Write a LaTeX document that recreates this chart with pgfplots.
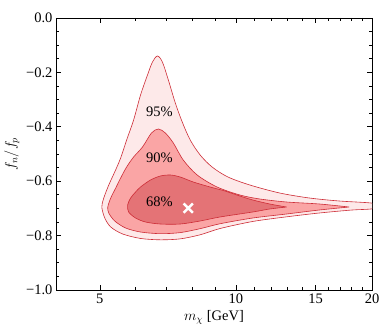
\documentclass[border=0pt]{standalone}
\usepackage{fontspec}
\setmainfont{Liberation Serif}
\usepackage{pgfplots}
\pgfplotsset{compat=1.18}

\definecolor{cl95}{RGB}{253,233,233}
\definecolor{cl90}{RGB}{250,165,165}
\definecolor{cl68}{RGB}{228,115,118}
\definecolor{edge}{RGB}{205,45,55}

\begin{document}
\begin{tikzpicture}
\begin{axis}[
    scale only axis,
    width=316pt, height=272pt,
    xmode=log,
    xmin=4, xmax=20, ymin=-1, ymax=0,
    xtick={5,10,15,20}, xticklabels={5,10,15,20},
    minor xtick={6,7,8,9,11,12,13,14,16,17,18,19},
    ytick={-1,-0.8,-0.6,-0.4,-0.2,0},
    yticklabels={−1.0,−0.8,−0.6,−0.4,−0.2,0.0},
    minor y tick num=3,
    tick align=inside,
    major tick length=5pt, minor tick length=3pt,
    tick style={black, line width=0.6pt},
    axis line style={line width=0.8pt},
    ticklabel style={font=\fontsize{14.5}{16}\selectfont},
    label style={font=\fontsize{14.5}{16}\selectfont},
    xlabel={$m_\chi$ [GeV]},
    ylabel={$f_n/f_p$},
]

% 95% region
\addplot[fill=cl95, draw=edge, line width=0.6pt, smooth, tension=0.5] coordinates {
 (21.5,-0.6912) (19.899,-0.6801) (16.925,-0.6728) (14.541,-0.6618) (12.493,-0.6434)
 (10.734,-0.6140) (9.603,-0.5846) (8.857,-0.5478) (8.335,-0.5037) (7.924,-0.4485)
 (7.609,-0.3824) (7.345,-0.3125) (7.089,-0.2279) (6.877,-0.1618) (6.705,-0.1397)
 (6.538,-0.1618) (6.374,-0.2096) (6.153,-0.2831) (5.939,-0.375) (5.732,-0.4485)
 (5.560,-0.5147) (5.394,-0.5662) (5.233,-0.6140) (5.102,-0.6618) (5.051,-0.6949)
 (5.128,-0.7353) (5.286,-0.7684) (5.617,-0.7941) (6.153,-0.8105) (6.808,-0.8155)
 (7.533,-0.8120) (8.335,-0.7970) (9.222,-0.7740) (10.898,-0.7480) (12.944,-0.7310)
 (15.296,-0.7169) (18.075,-0.7059) (19.899,-0.7022) (21.5,-0.6912)
};

% 90% region
\addplot[fill=cl90, draw=edge, line width=0.6pt, smooth, tension=0.5] coordinates {
 (17.803,-0.6949) (15.296,-0.6838) (12.944,-0.6765) (11.291,-0.6654) (10.204,-0.6507)
 (9.083,-0.6213) (8.209,-0.5772) (7.648,-0.5221) (7.271,-0.4596) (6.982,-0.4228)
 (6.739,-0.4081) (6.505,-0.4228) (6.215,-0.4743) (5.939,-0.5110) (5.732,-0.5478)
 (5.560,-0.5882) (5.422,-0.625) (5.286,-0.6618) (5.207,-0.6949) (5.233,-0.7169)
 (5.394,-0.7463) (5.703,-0.7721) (6.153,-0.7868) (6.808,-0.7930) (7.533,-0.7890)
 (8.335,-0.7745) (9.222,-0.7565) (10.898,-0.7353) (12.944,-0.7206) (15.296,-0.7059)
 (17.803,-0.6949)
};

% 68% region
\addplot[fill=cl68, draw=edge, line width=0.6pt, smooth, tension=0.5] coordinates {
 (12.944,-0.6949) (11.877,-0.6838) (10.898,-0.6691) (10.204,-0.6544) (9.459,-0.6360)
 (8.767,-0.6213) (8.045,-0.6029) (7.533,-0.5846) (7.161,-0.5772) (6.808,-0.5809)
 (6.472,-0.5956) (6.153,-0.6213) (5.999,-0.6397) (5.849,-0.6618) (5.761,-0.6875)
 (5.790,-0.7132) (5.999,-0.7353) (6.310,-0.75) (6.808,-0.7574) (7.533,-0.7574)
 (8.335,-0.7463) (9.222,-0.7316) (10.898,-0.7132) (11.877,-0.7022) (12.944,-0.6949)
};

% best fit
\addplot[only marks, mark=x, white, mark size=6.5pt, line width=2.6pt] coordinates {(7.844,-0.699)};

\node[font=\fontsize{14.5}{16}\selectfont] at (axis cs:6.77,-0.346) {95\%};
\node[font=\fontsize{14.5}{16}\selectfont] at (axis cs:6.77,-0.515) {90\%};
\node[font=\fontsize{14.5}{16}\selectfont] at (axis cs:6.77,-0.676) {68\%};
\end{axis}
\pgfresetboundingbox
\path[use as bounding box] ([xshift=-56pt,yshift=-41pt]current axis.south west) rectangle ([xshift=7pt,yshift=18pt]current axis.north east);
\end{tikzpicture}
\end{document}
